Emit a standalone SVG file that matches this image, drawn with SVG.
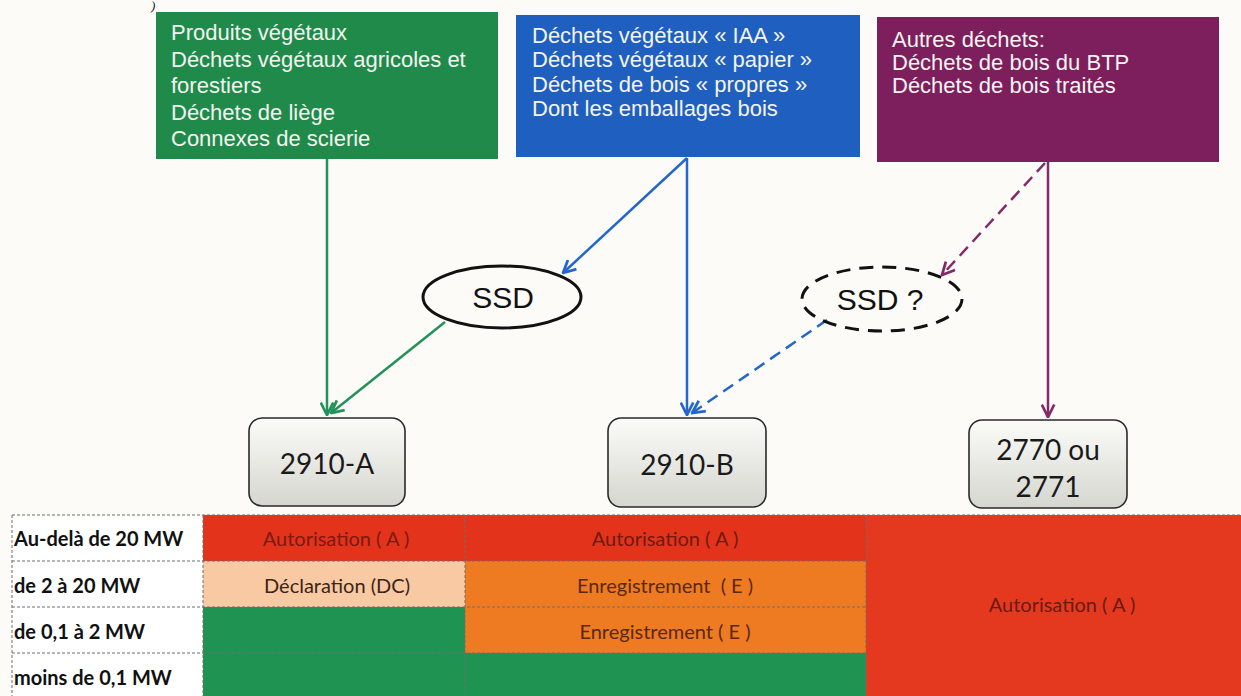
<svg xmlns="http://www.w3.org/2000/svg" width="1241" height="696" viewBox="0 0 1241 696">
<defs>
<style>
.src{font-family:"Liberation Sans",Arial,sans-serif;font-size:22px;fill:#f4f4f0}
.ell{font-family:"Liberation Sans",Arial,sans-serif;font-size:30px;fill:#111;text-anchor:middle}
.code{font-family:Lato,"Open Sans",sans-serif;font-size:28px;fill:#1a1a1a;text-anchor:middle}
.lbl{font-family:Lato,"Open Sans",sans-serif;font-size:20px;font-weight:bold;fill:#111}
.cell{font-family:Lato,"Open Sans",sans-serif;font-size:20px;text-anchor:middle}
.grid{stroke:#6f6f6f;stroke-width:1;stroke-dasharray:3 2;fill:none}
.nodebox{fill:url(#gb);stroke:#2a2a2a;stroke-width:1.6}
</style>
<linearGradient id="gb" x1="0" y1="0" x2="0" y2="1">
<stop offset="0" stop-color="#fbfbf8"/>
<stop offset="1" stop-color="#d6d6d0"/>
</linearGradient>
<marker id="ag" viewBox="0 0 12 12" refX="11" refY="6" markerWidth="15" markerHeight="15" markerUnits="userSpaceOnUse" orient="auto"><path d="M1,1 L11,6 L1,11" fill="none" stroke="#23925a" stroke-width="2.2"/></marker>
<marker id="ab" viewBox="0 0 12 12" refX="11" refY="6" markerWidth="15" markerHeight="15" markerUnits="userSpaceOnUse" orient="auto"><path d="M1,1 L11,6 L1,11" fill="none" stroke="#2366cc" stroke-width="2.2"/></marker>
<marker id="ap" viewBox="0 0 12 12" refX="11" refY="6" markerWidth="15" markerHeight="15" markerUnits="userSpaceOnUse" orient="auto"><path d="M1,1 L11,6 L1,11" fill="none" stroke="#852a68" stroke-width="2.2"/></marker>
</defs>
<rect x="0" y="0" width="1241" height="696" fill="#fcfbf7"/>
<text x="151" y="10" font-family="'Liberation Serif',serif" font-style="italic" font-size="13" fill="#222">)</text>

<g id="box-green">
<rect x="156" y="12" width="342" height="147" fill="#1f8a4a"/>
<text class="src" x="171" y="40">Produits végétaux</text>
<text class="src" x="171" y="67">Déchets végétaux agricoles et</text>
<text class="src" x="171" y="93">forestiers</text>
<text class="src" x="171" y="120">Déchets de liège</text>
<text class="src" x="171" y="146">Connexes de scierie</text>
</g>
<g id="box-blue">
<rect x="516" y="15" width="344" height="142" fill="#1f5fbf"/>
<text class="src" x="532" y="43">Déchets végétaux « IAA »</text>
<text class="src" x="532" y="67">Déchets végétaux « papier »</text>
<text class="src" x="532" y="92">Déchets de bois « propres »</text>
<text class="src" x="532" y="116">Dont les emballages bois</text>
</g>
<g id="box-purple">
<rect x="877" y="17" width="342" height="145" fill="#7d1f5c"/>
<text class="src" x="892" y="47">Autres déchets:</text>
<text class="src" x="892" y="70">Déchets de bois du BTP</text>
<text class="src" x="892" y="93">Déchets de bois traités</text>
</g>

<g id="connectors" fill="none" stroke-width="2.5">
<line x1="327" y1="159" x2="327" y2="415" stroke="#23925a" marker-end="url(#ag)"/>
<line x1="445" y1="322" x2="331" y2="413" stroke="#23925a" marker-end="url(#ag)"/>
<line x1="687" y1="158" x2="563" y2="273" stroke="#2366cc" marker-end="url(#ab)"/>
<line x1="687" y1="158" x2="687" y2="415" stroke="#2366cc" marker-end="url(#ab)"/>
<line x1="827" y1="320" x2="692" y2="413" stroke="#2366cc" stroke-dasharray="12 7" marker-end="url(#ab)"/>
<line x1="1045" y1="163" x2="942" y2="275" stroke="#852a68" stroke-dasharray="12 7" marker-end="url(#ap)"/>
<line x1="1048" y1="162" x2="1048" y2="417" stroke="#852a68" marker-end="url(#ap)"/>
</g>

<g id="ssd">
<ellipse cx="502" cy="297" rx="79" ry="31" fill="none" stroke="#111" stroke-width="3"/>
<text class="ell" x="503" y="308">SSD</text>
</g>
<g id="ssd-q">
<ellipse cx="882" cy="299" rx="80" ry="32" fill="none" stroke="#111" stroke-width="3" stroke-dasharray="14 9"/>
<text class="ell" x="880" y="310" font-size="29">SSD ?</text>
</g>

<g id="n2910a">
<rect class="nodebox" x="249" y="418" width="156" height="88" rx="13"/>
<text class="code" x="327" y="474">2910-A</text>
</g>
<g id="n2910b">
<rect class="nodebox" x="608" y="418" width="158" height="89" rx="13"/>
<text class="code" x="687" y="475">2910-B</text>
</g>
<g id="n2770">
<rect class="nodebox" x="969" y="420" width="158" height="88" rx="13"/>
<text class="code" x="1048" y="460">2770 ou</text>
<text class="code" x="1048" y="497">2771</text>
</g>

<g id="table">
<rect x="12" y="515" width="191" height="181" fill="#ffffff"/>
<rect x="203" y="515" width="262" height="46" fill="#e4331b"/>
<rect x="465" y="515" width="401" height="46" fill="#e4331b"/>
<rect x="203" y="561" width="262" height="46" fill="#f8c9a2"/>
<rect x="465" y="561" width="401" height="46" fill="#ee7b22"/>
<rect x="203" y="607" width="262" height="89" fill="#1f9352"/>
<rect x="465" y="607" width="401" height="46" fill="#ee7b22"/>
<rect x="465" y="653" width="401" height="43" fill="#1f9352"/>
<rect x="866" y="515" width="375" height="181" fill="#e5391f"/>
<path class="grid" d="M12,515 H1241 M12,561 H866 M12,607 H866 M12,653 H866 M12,515 V696 M203,515 V696 M465,515 V696 M866,515 V696"/>
<text class="lbl" x="14" y="546">Au-delà de 20 MW</text>
<text class="lbl" x="14" y="593">de 2 à 20 MW</text>
<text class="lbl" x="14" y="639">de 0,1 à 2 MW</text>
<text class="lbl" x="14" y="685">moins de 0,1 MW</text>
<text class="cell" x="336" y="546" fill="#7a1a10">Autorisation ( A )</text>
<text class="cell" x="337" y="593" fill="#3a2518">Déclaration (DC)</text>
<text class="cell" x="665" y="546" fill="#6e1a10">Autorisation ( A )</text>
<text class="cell" x="665" y="593" fill="#5a2810" xml:space="preserve">Enregistrement  ( E )</text>
<text class="cell" x="665" y="639" fill="#5a2810">Enregistrement ( E )</text>
<text class="cell" x="1062" y="612" fill="#6a1a12">Autorisation ( A )</text>
</g>
</svg>
